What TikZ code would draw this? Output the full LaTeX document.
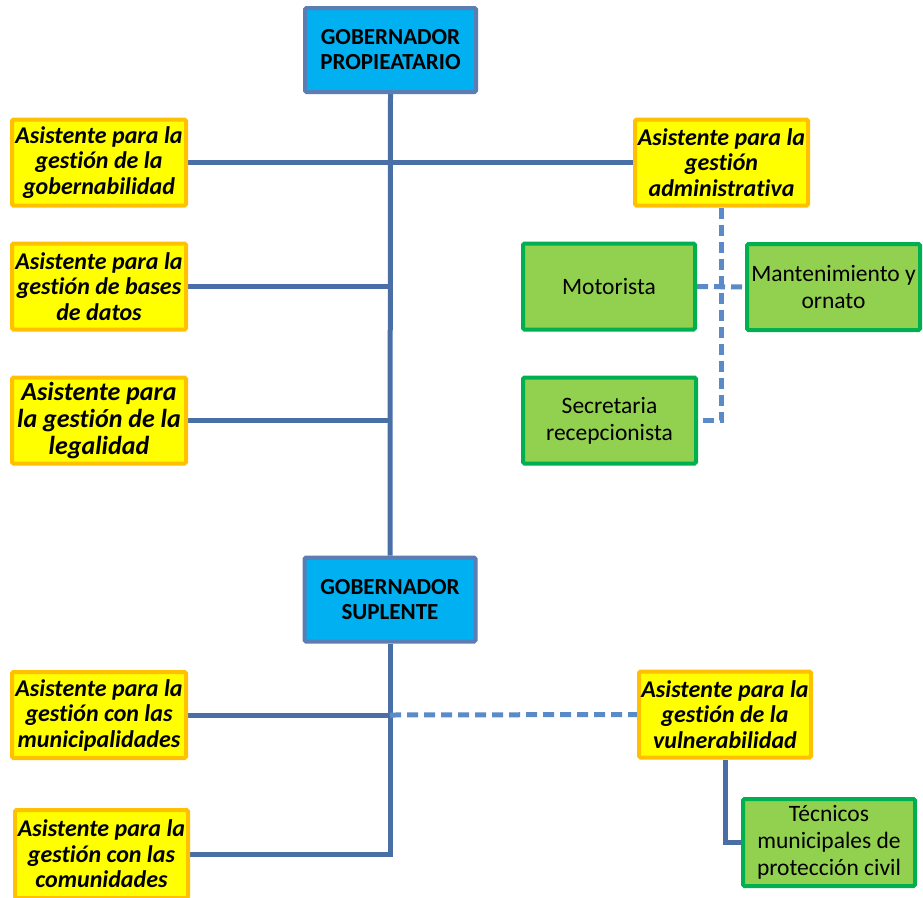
\documentclass[tikz,border=0pt]{standalone}
\usepackage{fontspec}
\setmainfont{Carlito}[Ligatures=NoCommon]
\usetikzlibrary{backgrounds}
\definecolor{bluefill}{HTML}{00B0F0}
\definecolor{blueedge}{HTML}{5A7DB3}
\definecolor{yelfill}{HTML}{FFFF00}
\definecolor{yeledge}{HTML}{FFC000}
\definecolor{grnfill}{HTML}{92D050}
\definecolor{grnedge}{HTML}{00B050}
\definecolor{linesolid}{HTML}{4A6FA7}
\definecolor{linedash}{HTML}{5A8AC8}
\tikzset{
  govbox/.style={draw=blueedge, fill=bluefill, line width=4pt, rounded corners=1.5pt,
    minimum width=171pt, minimum height=84pt, inner sep=0pt, align=center,
    font=\fontsize{23}{25}\selectfont\bfseries},
  asbox/.style={draw=yeledge, fill=yelfill, line width=4pt, rounded corners=1.5pt,
    minimum width=174pt, minimum height=86pt, inner sep=0pt, align=center,
    font=\fontsize{24}{25.5}\selectfont\bfseries\itshape},
  staffbox/.style={draw=grnedge, fill=grnfill, line width=4pt, rounded corners=1.5pt,
    minimum width=172pt, minimum height=86pt, inner sep=0pt, align=center,
    font=\fontsize{23.5}{27}\selectfont},
  link/.style={draw=linesolid, line width=5pt},
  dlink/.style={draw=linedash, line width=5pt, dash pattern=on 11pt off 6pt}
}
\begin{document}
\begin{tikzpicture}[x=1pt,y=-1pt]
\useasboundingbox (0,0) rectangle (923,897);
\node[govbox] (gp) at (390.5,50) {GOBERNADOR\\PROPIEATARIO};
\node[govbox] (gs) at (390,599.5) {GOBERNADOR\\SUPLENTE};
\node[asbox] (a1) at (99,162.5) {Asistente para la\\gestión de la\\gobernabilidad};
\node[asbox] (a2) at (99,286.5) {Asistente para la\\gestión de bases\\de datos};
\node[asbox, font=\fontsize{26}{27}\selectfont\bfseries\itshape] (a3) at (99,420.5) {Asistente para\\la gestión de la\\legalidad};
\node[asbox, minimum width=173pt] (ad) at (721.5,162.5) {Asistente para la\\gestión\\administrativa};
\node[staffbox] (mo) at (609,286.5) {Motorista};
\node[staffbox, minimum width=173pt] (ma) at (833.5,287) {Mantenimiento y\\ornato};
\node[staffbox, minimum width=173pt] (se) at (609.5,420.5) {Secretaria\\recepcionista};
\node[asbox] (mu) at (99,715) {Asistente para la\\gestión con las\\municipalidades};
\node[asbox, minimum width=173pt, minimum height=88pt] (co) at (101.5,854) {Asistente para la\\gestión con las\\comunidades};
\node[asbox, minimum width=172pt] (vu) at (725,714.5) {Asistente para la\\gestión de la\\vulnerabilidad};
\node[staffbox, minimum height=87pt] (te) at (829,842.5) {Técnicos\\municipales de\\protección civil};
\begin{pgfonlayer}{background}
\draw[link] (gp.south) -- (gs.north);
\draw[link] (a1.east) -- (ad.west);
\draw[link] (a2.east) -- (gp.south |- a2.east);
\draw[link] (a3.east) -- (gp.south |- a3.east);
\draw[dlink] (ad.south) -- (ad.south |- se.east) -- (se.east);
\draw[dlink] (mo.east) -- (ma.west);
\draw[link] (gs.south) -- (gs.south |- co.east) -- (co.east);
\draw[link] (mu.east) -- (gs.south |- mu.east);
\draw[dlink] (gs.south |- mu.east) -- (vu.west);
\draw[link] (vu.south) -- (vu.south |- te.west) -- (te.west);
\end{pgfonlayer}
\end{tikzpicture}
\end{document}
